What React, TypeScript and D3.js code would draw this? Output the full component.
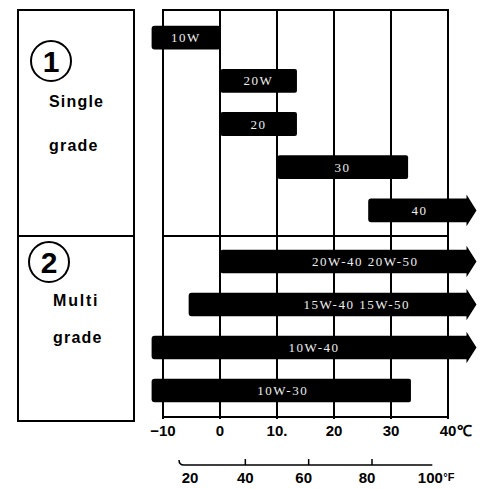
import React from "react";
import * as d3 from "d3";

// temperature axes
const celsiusTicks = [-10, 0, 10, 20, 30, 40];
const celsiusLabels = ["−10", "0", "10.", "20", "30", "40"];
const fahrenheitTicks = [20, 40, 60, 80, 100];

// single grade oils (°C ranges)
const singleLabels = ["10W", "20W", "20", "30", "40"];
const singleFrom = [-12, 0, 0, 10, 26];
const singleTo = [0, 13.5, 13.5, 33, 45];
const singleArrow = [false, false, false, false, true];
const singleLabelAt = [-6, 6.75, 6.75, 21.5, 35];

// multi grade oils
const multiLabels = ["20W-40 20W-50", "15W-40 15W-50", "10W-40", "10W-30"];
const multiFrom = [0, -5.5, -12, -12];
const multiTo = [45, 45, 45, 33.5];
const multiArrow = [true, true, true, false];
const multiLabelAt = [25.5, 24, 16.5, 11];

const W = 486;
const H = 489;
const SANS = "Liberation Sans, Arial, sans-serif";

function Bars({ labels, from, to, arrow, labelAt, y, x }) {
  const bh = y.bandwidth();
  return (
    <g>
      {labels.map((lab, i) => {
        const y0 = y(String(i));
        const x0 = x(from[i]);
        const tip = x(to[i]);
        let path;
        if (arrow[i]) {
          const bodyEnd = tip - 10;
          path = `M${x0 + 3},${y0} L${bodyEnd},${y0} L${bodyEnd},${y0 - 4} L${tip},${y0 + bh / 2} L${bodyEnd},${y0 + bh + 4} L${bodyEnd},${y0 + bh} L${x0 + 3},${y0 + bh} Q${x0},${y0 + bh} ${x0},${y0 + bh - 3} L${x0},${y0 + 3} Q${x0},${y0} ${x0 + 3},${y0} Z`;
        } else {
          path = `M${x0 + 3},${y0} L${tip - 2},${y0} Q${tip},${y0} ${tip},${y0 + 2} L${tip},${y0 + bh - 2} Q${tip},${y0 + bh} ${tip - 2},${y0 + bh} L${x0 + 3},${y0 + bh} Q${x0},${y0 + bh} ${x0},${y0 + bh - 3} L${x0},${y0 + 3} Q${x0},${y0} ${x0 + 3},${y0} Z`;
        }
        return (
          <g key={i}>
            <path d={path} fill="#000" />
            <text
              x={x(labelAt[i])}
              y={y0 + bh / 2 + 4.5}
              textAnchor="middle"
              fill="#eee"
              fontFamily="Liberation Serif, serif"
              fontSize="13"
              letterSpacing="1.5"
            >
              {lab}
            </text>
          </g>
        );
      })}
    </g>
  );
}

export default function App() {
  const x = d3.scaleLinear().domain([-10, 40]).range([163, 448]);
  const toC = (f) => ((f - 32) * 5) / 9;
  const fx = (f) => x(toC(f));

  const singleY = d3
    .scaleBand()
    .domain(singleLabels.map((_, i) => String(i)))
    .range([16, 232])
    .paddingInner(0.45)
    .paddingOuter(0.225);
  const multiY = d3
    .scaleBand()
    .domain(multiLabels.map((_, i) => String(i)))
    .range([240, 412])
    .paddingInner(0.45)
    .paddingOuter(0.225);

  const top = 10;
  const bottom = 417;
  const divider = 236;
  const fLineY = 465;

  return (
    <svg
      width={W}
      height={H}
      style={{ position: "absolute", left: 0, top: 0, background: "#fff" }}
    >
      {/* left label panel */}
      <rect x={18} y={top} width={116} height={411} fill="none" stroke="#000" strokeWidth={2} />
      <line x1={18} x2={134} y1={divider} y2={divider} stroke="#000" strokeWidth={2} />
      <circle cx={51} cy={61} r={20} fill="none" stroke="#000" strokeWidth={2} />
      <text x={51} y={72} textAnchor="middle" fontFamily={SANS} fontWeight="bold" fontSize="30">1</text>
      <text x={49} y={107} fontFamily={SANS} fontSize="16" fontWeight="bold" letterSpacing="1.2">Single</text>
      <text x={49} y={151} fontFamily={SANS} fontSize="16" fontWeight="bold" letterSpacing="1.2">grade</text>
      <circle cx={49} cy={262} r={20} fill="none" stroke="#000" strokeWidth={2} />
      <text x={49} y={273} textAnchor="middle" fontFamily={SANS} fontWeight="bold" fontSize="30">2</text>
      <text x={53} y={306} fontFamily={SANS} fontSize="16" fontWeight="bold" letterSpacing="1.8">Multi</text>
      <text x={53} y={343} fontFamily={SANS} fontSize="16" fontWeight="bold" letterSpacing="1.2">grade</text>

      {/* chart grid */}
      <rect x={x(-10)} y={top} width={x(40) - x(-10)} height={bottom - top} fill="none" stroke="#000" strokeWidth={2} />
      {celsiusTicks.map((t) => (
        <line key={t} x1={x(t)} x2={x(t)} y1={top} y2={bottom + 2} stroke="#000" strokeWidth={2} />
      ))}
      <line x1={x(-10)} x2={x(40)} y1={divider} y2={divider} stroke="#000" strokeWidth={2} />

      <Bars labels={singleLabels} from={singleFrom} to={singleTo} arrow={singleArrow} labelAt={singleLabelAt} y={singleY} x={x} />
      <Bars labels={multiLabels} from={multiFrom} to={multiTo} arrow={multiArrow} labelAt={multiLabelAt} y={multiY} x={x} />

      {/* celsius axis labels */}
      {celsiusTicks.map((t, i) => (
        <text key={t} x={x(t)} y={436} textAnchor="middle" fontFamily={SANS} fontWeight="bold" fontSize="15">
          {celsiusLabels[i]}
        </text>
      ))}
      <text x={x(40) + 9} y={436} fontFamily={SANS} fontWeight="bold" fontSize="15">℃</text>

      {/* fahrenheit axis */}
      <path d={`M${fx(20) - 3},${fLineY - 5} Q${fx(20) - 3},${fLineY} ${fx(20) + 2},${fLineY} L${fx(100) - 3},${fLineY}`} fill="none" stroke="#000" strokeWidth={1.5} />
      {fahrenheitTicks.slice(1, -1).map((f) => (
        <line key={f} x1={fx(f)} x2={fx(f)} y1={fLineY - 6} y2={fLineY} stroke="#000" strokeWidth={1.5} />
      ))}
      {fahrenheitTicks.map((f) => (
        <text key={f} x={fx(f) + (f === 20 ? 8 : f === 40 ? 0 : -5)} y={483} textAnchor="middle" fontFamily={SANS} fontWeight="bold" fontSize="15">
          {f}
        </text>
      ))}
      <text x={fx(100) + 8} y={481} fontFamily={SANS} fontWeight="bold" fontSize="11">°F</text>
    </svg>
  );
}
